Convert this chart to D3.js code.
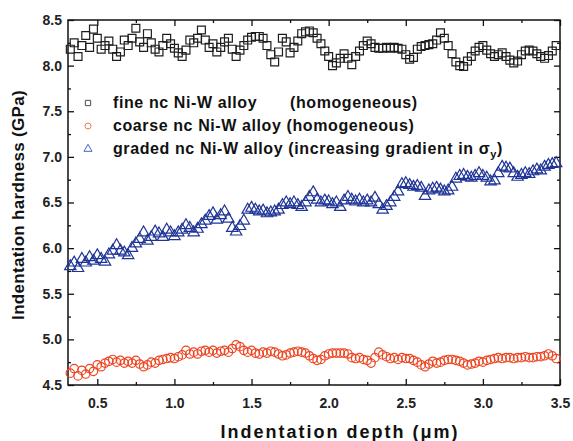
<!DOCTYPE html>
<html>
<head>
<meta charset="utf-8">
<script src="https://cdn.jsdelivr.net/npm/d3@7"></script>
<style>
body { margin: 0; background: #fff; }
svg { display: block; }
</style>
</head>
<body>
<div id="chart"></div>
<script>
const width = 573,
    height = 441
const margin = {
    top: 20,
    right: 13,
    bottom: 56,
    left: 68
}

// indentation depth (µm), shared by the three curves
const depth = [0.325, 0.35, 0.375, 0.4, 0.425, 0.45, 0.475, 0.5, 0.525, 0.55,
    0.575, 0.6, 0.625, 0.65, 0.675, 0.7, 0.725, 0.75, 0.775, 0.8,
    0.825, 0.85, 0.875, 0.9, 0.925, 0.95, 0.975, 1.0, 1.025, 1.05,
    1.075, 1.1, 1.125, 1.15, 1.175, 1.2, 1.225, 1.25, 1.275, 1.3,
    1.325, 1.35, 1.375, 1.4, 1.425, 1.45, 1.475, 1.5, 1.525, 1.55,
    1.575, 1.6, 1.625, 1.65, 1.675, 1.7, 1.725, 1.75, 1.775, 1.8,
    1.825, 1.85, 1.875, 1.9, 1.925, 1.95, 1.975, 2.0, 2.025, 2.05,
    2.075, 2.1, 2.125, 2.15, 2.175, 2.2, 2.225, 2.25, 2.275, 2.3,
    2.325, 2.35, 2.375, 2.4, 2.425, 2.45, 2.475, 2.5, 2.525, 2.55,
    2.575, 2.6, 2.625, 2.65, 2.675, 2.7, 2.725, 2.75, 2.775, 2.8,
    2.825, 2.85, 2.875, 2.9, 2.925, 2.95, 2.975, 3.0, 3.025, 3.05,
    3.075, 3.1, 3.125, 3.15, 3.175, 3.2, 3.225, 3.25, 3.275, 3.3,
    3.325, 3.35, 3.375, 3.4, 3.425, 3.45, 3.475]

// hardness (GPa)
const fineHardness = [8.18, 8.25, 8.10, 8.22, 8.33, 8.20, 8.40, 8.30, 8.18, 8.22,
    8.27, 8.18, 8.10, 8.15, 8.28, 8.22, 8.30, 8.41, 8.26, 8.20,
    8.35, 8.25, 8.18, 8.15, 8.22, 8.30, 8.24, 8.19, 8.14, 8.10,
    8.17, 8.28, 8.25, 8.30, 8.39, 8.28, 8.20, 8.24, 8.15, 8.20,
    8.26, 8.30, 8.18, 8.10, 8.17, 8.22, 8.28, 8.31, 8.32, 8.32,
    8.30, 8.22, 8.12, 8.04, 8.15, 8.30, 8.26, 8.14, 8.20, 8.27,
    8.35, 8.37, 8.38, 8.36, 8.30, 8.24, 8.16, 8.10, 8.00, 8.03,
    8.08, 8.13, 8.08, 8.01, 8.10, 8.16, 8.22, 8.27, 8.24, 8.20,
    8.19, 8.19, 8.20, 8.19, 8.20, 8.19, 8.18, 8.12, 8.07, 8.09,
    8.18, 8.21, 8.22, 8.23, 8.24, 8.28, 8.36, 8.30, 8.22, 8.13,
    8.04, 8.00, 7.99, 8.05, 8.10, 8.16, 8.20, 8.22, 8.17, 8.13,
    8.10, 8.12, 8.14, 8.10, 8.06, 8.03, 8.05, 8.12, 8.16, 8.17,
    8.16, 8.13, 8.10, 8.08, 8.11, 8.16, 8.22]

const coarseHardness = [4.63, 4.68, 4.60, 4.66, 4.62, 4.68, 4.65, 4.72, 4.70, 4.74,
    4.76, 4.78, 4.75, 4.77, 4.74, 4.76, 4.74, 4.77, 4.73, 4.70,
    4.72, 4.75, 4.74, 4.77, 4.78, 4.79, 4.80, 4.79, 4.81, 4.83,
    4.88, 4.84, 4.86, 4.84, 4.87, 4.88, 4.86, 4.88, 4.85, 4.87,
    4.88, 4.86, 4.90, 4.94, 4.92, 4.88, 4.86, 4.88, 4.85, 4.84,
    4.86, 4.85, 4.87, 4.86, 4.84, 4.82, 4.83, 4.85, 4.86, 4.87,
    4.86, 4.85, 4.82, 4.79, 4.77, 4.78, 4.82, 4.84, 4.85, 4.85,
    4.85, 4.85, 4.84, 4.80, 4.79, 4.80, 4.78, 4.77, 4.74, 4.80,
    4.86, 4.83, 4.81, 4.79, 4.80, 4.78, 4.80, 4.79, 4.79, 4.77,
    4.75, 4.72, 4.70, 4.73, 4.76, 4.74, 4.75, 4.77, 4.78, 4.78,
    4.77, 4.76, 4.74, 4.72, 4.73, 4.74, 4.76, 4.75, 4.77, 4.78,
    4.79, 4.80, 4.79, 4.80, 4.80, 4.79, 4.80, 4.80, 4.81, 4.80,
    4.80, 4.81, 4.81, 4.82, 4.84, 4.82, 4.79]

const gradedHardness = [5.80, 5.84, 5.78, 5.88, 5.84, 5.90, 5.86, 5.92, 5.88, 5.85,
    5.93, 5.97, 6.03, 5.97, 5.95, 5.92, 6.00, 6.05, 6.10, 6.17,
    6.08, 6.12, 6.18, 6.16, 6.12, 6.20, 6.17, 6.13, 6.17, 6.20,
    6.25, 6.22, 6.17, 6.21, 6.26, 6.30, 6.35, 6.38, 6.31, 6.36,
    6.40, 6.32, 6.22, 6.18, 6.24, 6.30, 6.42, 6.44, 6.42, 6.40,
    6.41, 6.38, 6.39, 6.40, 6.42, 6.47, 6.50, 6.48, 6.50, 6.47,
    6.45, 6.50, 6.56, 6.61, 6.53, 6.50, 6.52, 6.51, 6.48, 6.50,
    6.45, 6.52, 6.56, 6.53, 6.51, 6.53, 6.50, 6.52, 6.50, 6.55,
    6.48, 6.42, 6.46, 6.50, 6.56, 6.62, 6.70, 6.71, 6.69, 6.67,
    6.68, 6.66, 6.57, 6.63, 6.65, 6.66, 6.64, 6.62, 6.63, 6.67,
    6.76, 6.79, 6.80, 6.78, 6.77, 6.79, 6.82, 6.79, 6.77, 6.73,
    6.74, 6.82, 6.89, 6.88, 6.87, 6.82, 6.78, 6.80, 6.82, 6.81,
    6.84, 6.86, 6.85, 6.89, 6.91, 6.92, 6.93]

const xTicks = [0.5, 1.0, 1.5, 2.0, 2.5, 3.0, 3.5]
const xMinorTicks = [0.75, 1.25, 1.75, 2.25, 2.75, 3.25]
const yTicks = [4.5, 5.0, 5.5, 6.0, 6.5, 7.0, 7.5, 8.0, 8.5]
const yMinorTicks = [4.75, 5.25, 5.75, 6.25, 6.75, 7.25, 7.75, 8.25]

const seriesNames = ['fine nc Ni-W alloy', 'coarse nc Ni-W alloy (homogeneous)', 'graded nc Ni-W alloy (increasing gradient in σ']
const seriesColor = ['#1e1e1e', '#ee4420', '#1f3496']
const legendColor = ['#4a4a4a', '#f07a5a', '#4566c0']

const font = "'Liberation Sans', Arial, sans-serif"

const svg = d3.select('#chart')
    .append('svg')
    .attr('width', width)
    .attr('height', height)
    .style('font-family', font)

const x = d3.scaleLinear()
    .domain([0.31, 3.5])
    .range([margin.left, width - margin.right])

const y = d3.scaleLinear()
    .domain([4.5, 8.5])
    .range([height - margin.bottom, margin.top])

/**
 * 坐标轴（四边，刻度朝内）
 */
function styleAxis(g) {
    g.select('.domain').remove()
    g.selectAll('line').attr('stroke', '#111').attr('stroke-width', 1.3)
    g.selectAll('text')
        .attr('fill', '#222')
        .attr('font-size', 14)
        .attr('font-weight', 'bold')
        .attr('font-family', font)
}

svg.append('g')
    .attr('transform', 'translate(0,' + y(4.5) + ')')
    .call(d3.axisBottom(x).tickValues(xTicks).tickSize(-6).tickPadding(13).tickFormat(d3.format('.1f')))
    .call(styleAxis)
svg.append('g')
    .attr('transform', 'translate(0,' + y(4.5) + ')')
    .call(d3.axisBottom(x).tickValues(xMinorTicks).tickSize(-3).tickFormat(''))
    .call(styleAxis)
svg.append('g')
    .attr('transform', 'translate(0,' + y(8.5) + ')')
    .call(d3.axisTop(x).tickValues(xTicks).tickSize(-6).tickFormat(''))
    .call(styleAxis)
svg.append('g')
    .attr('transform', 'translate(0,' + y(8.5) + ')')
    .call(d3.axisTop(x).tickValues(xMinorTicks).tickSize(-3).tickFormat(''))
    .call(styleAxis)

svg.append('g')
    .attr('transform', 'translate(' + x(0.31) + ',0)')
    .call(d3.axisLeft(y).tickValues(yTicks).tickSize(-6).tickPadding(6).tickFormat(d3.format('.1f')))
    .call(styleAxis)
svg.append('g')
    .attr('transform', 'translate(' + x(0.31) + ',0)')
    .call(d3.axisLeft(y).tickValues(yMinorTicks).tickSize(-3).tickFormat(''))
    .call(styleAxis)
svg.append('g')
    .attr('transform', 'translate(' + x(3.5) + ',0)')
    .call(d3.axisRight(y).tickValues(yTicks).tickSize(-6).tickFormat(''))
    .call(styleAxis)
svg.append('g')
    .attr('transform', 'translate(' + x(3.5) + ',0)')
    .call(d3.axisRight(y).tickValues(yMinorTicks).tickSize(-3).tickFormat(''))
    .call(styleAxis)

svg.append('rect')
    .attr('x', x(0.31))
    .attr('y', y(8.5))
    .attr('width', x(3.5) - x(0.31))
    .attr('height', y(4.5) - y(8.5))
    .attr('fill', 'none')
    .attr('stroke', '#111')
    .attr('stroke-width', 1.5)

/**
 * 数据点
 */
const series = [
    {values: fineHardness, symbol: d3.symbolSquare, size: 62},
    {values: coarseHardness, symbol: d3.symbolCircle, size: 56},
    {values: gradedHardness, symbol: d3.symbolTriangle, size: 56}
]

series.forEach(function (s, i) {
    svg.append('g')
        .selectAll('path')
        .data(s.values)
        .enter().append('path')
        .attr('d', d3.symbol().type(s.symbol).size(s.size))
        .attr('transform', function (d, j) {
            return 'translate(' + x(depth[j]) + ',' + y(d) + ')'
        })
        .attr('fill', 'none')
        .attr('stroke', seriesColor[i])
        .attr('stroke-width', 1.2)
})

/**
 * 图例
 */
const legend = svg.append('g')
const legendY = [103, 126, 149]
const legendSymbols = [d3.symbolSquare, d3.symbolCircle, d3.symbolTriangle]

legend.selectAll('path')
    .data(legendSymbols)
    .enter().append('path')
    .attr('d', function (d) {
        return d3.symbol().type(d).size(28)()
    })
    .attr('transform', function (d, i) {
        return 'translate(88,' + legendY[i] + ')'
    })
    .attr('fill', 'none')
    .attr('stroke', function (d, i) {
        return legendColor[i]
    })
    .attr('stroke-width', 1)

const legendText = legend.selectAll('text.name')
    .data(seriesNames)
    .enter().append('text')
    .attr('class', 'name')
    .attr('x', 113)
    .attr('y', function (d, i) {
        return legendY[i] + 5
    })
    .attr('font-size', 16)
    .attr('font-weight', 'bold')
    .attr('letter-spacing', 0.6)
    .attr('fill', '#111')
    .text(function (d) {
        return d
    })

legend.append('text')
    .attr('x', 290)
    .attr('y', legendY[0] + 5)
    .attr('font-size', 16)
    .attr('font-weight', 'bold')
    .attr('letter-spacing', 0.6)
    .attr('fill', '#111')
    .text('(homogeneous)')

// σ 的下标 y
const lastLine = legendText.filter(function (d, i) { return i === 2 })
lastLine.append('tspan')
    .attr('font-size', 11)
    .attr('dy', 4)
    .text('y')
lastLine.append('tspan')
    .attr('dy', -4)
    .text(')')

/**
 * 轴标题
 */
svg.append('text')
    .attr('x', 340)
    .attr('y', 438)
    .attr('text-anchor', 'middle')
    .attr('font-size', 18)
    .attr('font-weight', 'bold')
    .attr('letter-spacing', 2)
    .attr('fill', '#111')
    .text('Indentation depth (μm)')

svg.append('text')
    .attr('transform', 'translate(24,205) rotate(-90)')
    .attr('text-anchor', 'middle')
    .attr('font-size', 17)
    .attr('font-weight', 'bold')
    .attr('letter-spacing', 0.3)
    .attr('fill', '#111')
    .text('Indentation hardness (GPa)')
</script>
</body>
</html>
